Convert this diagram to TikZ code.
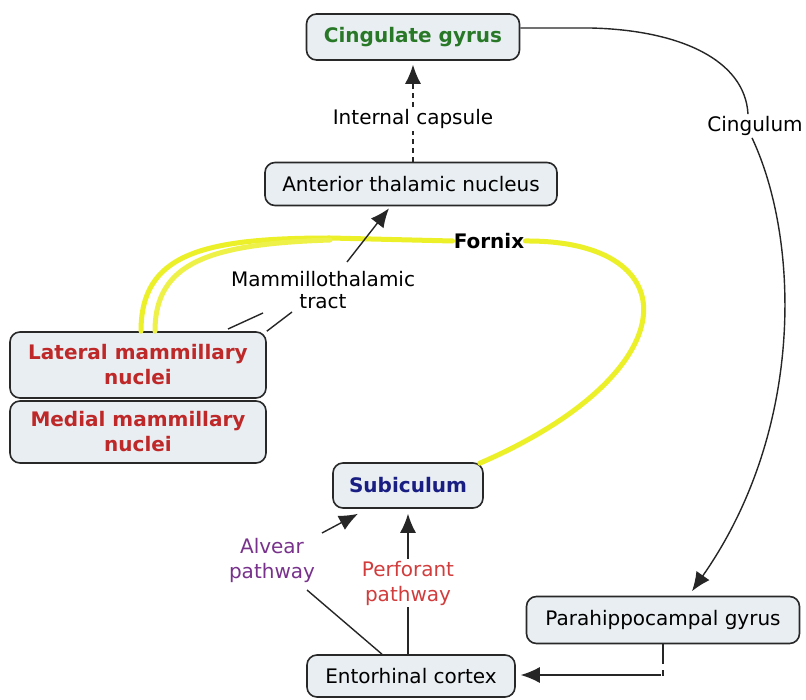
\documentclass[tikz,border=0pt]{standalone}
\usepackage{fontspec}
\setmainfont{DejaVu Sans}
\usetikzlibrary{arrows.meta}
\definecolor{boxfill}{RGB}{232,238,242}
\definecolor{boxdraw}{RGB}{40,40,40}
\definecolor{cgreen}{RGB}{40,120,40}
\definecolor{cred}{RGB}{190,40,40}
\definecolor{cblue}{RGB}{25,30,130}
\definecolor{cpurple}{RGB}{120,50,140}
\definecolor{cpink}{RGB}{210,60,60}
\definecolor{fornixy}{RGB}{235,240,40}
\begin{document}
\begin{tikzpicture}[x=1pt,y=-1pt,
  txt/.style={font=\fontsize{20}{25}\selectfont},
  btxt/.style={font=\fontsize{20}{25}\selectfont\bfseries},
  concept/.style={draw=boxdraw,line width=1.6pt,fill=boxfill,rounded corners=10pt,align=center,inner sep=0pt,txt},
  lbl/.style={align=center,inner sep=2pt,txt},
  link/.style={line width=1.4pt,draw=black!85},
  arr/.style={link,arrows={-Latex[length=19pt,width=16pt]}},
  fornix/.style={line width=5pt,draw=fornixy,line cap=round}
]
\useasboundingbox (0,0) rectangle (806,700);
\fill[white] (0,0) rectangle (806,700);

% nodes
\node[concept,minimum width=213pt,minimum height=46pt,text=cgreen,btxt] (cg) at (413,37) {Cingulate gyrus};
\node[concept,minimum width=292pt,minimum height=43pt] (at) at (411,184) {Anterior thalamic nucleus};
\node[concept,minimum width=256pt,minimum height=66pt,text=cred,btxt] (lat) at (138,365) {Lateral mammillary\\nuclei};
\node[concept,minimum width=256pt,minimum height=62pt,text=cred,btxt] (med) at (138,432) {Medial mammillary\\nuclei};
\node[concept,minimum width=150pt,minimum height=45pt,text=cblue,btxt] (sub) at (408,485.5) {Subiculum};
\node[concept,minimum width=273pt,minimum height=47pt] (para) at (663,620) {Parahippocampal gyrus};
\node[concept,minimum width=208pt,minimum height=42pt] (ent) at (411,676) {Entorhinal cortex};

\node[lbl] (ic) at (413,119) {Internal capsule};
\node[lbl,btxt] (fx) at (489,241) {Fornix};
\node[lbl,font=\fontsize{20}{22}\selectfont] (mt) at (323,290) {Mammillothalamic\\tract};
\node[lbl,text=cpurple] (alv) at (272,560) {Alvear\\pathway};
\node[lbl,text=cpink] (perf) at (408,583) {Perforant\\pathway};
\node[lbl] (cing) at (755,126) {Cingulum};

% fornix (yellow)
\draw[fornix] ([xshift=3pt]lat.north) .. controls (141,255) and (200,238) .. (330,238) -- ([xshift=1pt]fx.west);
\draw[fornix,draw=fornixy!85] ([xshift=17pt]lat.north) .. controls (155,262) and (210,244) .. (330,240);
\draw[fornix] ([xshift=-1pt]fx.east) .. controls (690,240) and (690,372) .. ([xshift=-4pt,yshift=-1pt]sub.north east);

% internal capsule
\draw[link,line width=2.2pt,dash pattern=on 5pt off 4pt] (at.north -| ic) -- (ic.south);
\draw[link,line width=2.2pt,dash pattern=on 5pt off 4pt] (ic.north) -- ([yshift=-20pt]cg.south);
\draw[arr] ([yshift=-18pt]cg.south) -- ([yshift=-4pt]cg.south);

% mammillothalamic tract
\coordinate (m1) at (228,329);
\coordinate (m2) at (263,313);
\coordinate (m3) at (292,312);
\coordinate (m4) at (347,262);
\draw[link] (m1) -- (m2);
\draw[link] (lat.north east) -- (m3);
\draw[arr] (m4) -- ([xshift=-22pt,yshift=-2pt]at.south);

% cingulum
\draw[link] ([yshift=9pt]cg.east) -- ++(70,0) .. controls (680,30) and (745,60) .. ([xshift=-7pt]cing.north);
\draw[arr] ([xshift=-3pt]cing.south) .. controls (800,240) and (805,430) .. ([xshift=29pt,yshift=4.5pt]para.north);

% parahippocampal -> entorhinal
\draw[link] (para.south) -- ++(0,20);
\draw[link] (663,670) -- (663,676);
\coordinate (pc) at (661,675);
\draw[arr] (pc) -- ([xshift=5pt,yshift=1pt]ent.east);

% perforant
\draw[link] (ent.north -| perf) -- (perf.south);
\draw[arr] (perf.north) -- ([yshift=-5pt]sub.south -| perf);

% alvear
\coordinate (a1) at (307,590);
\coordinate (a2) at (322,533);
\draw[link] ([xshift=-29pt]ent.north) -- (a1);
\draw[arr] (a2) -- ([xshift=-50pt,yshift=-5pt]sub.south);
\end{tikzpicture}
\end{document}
